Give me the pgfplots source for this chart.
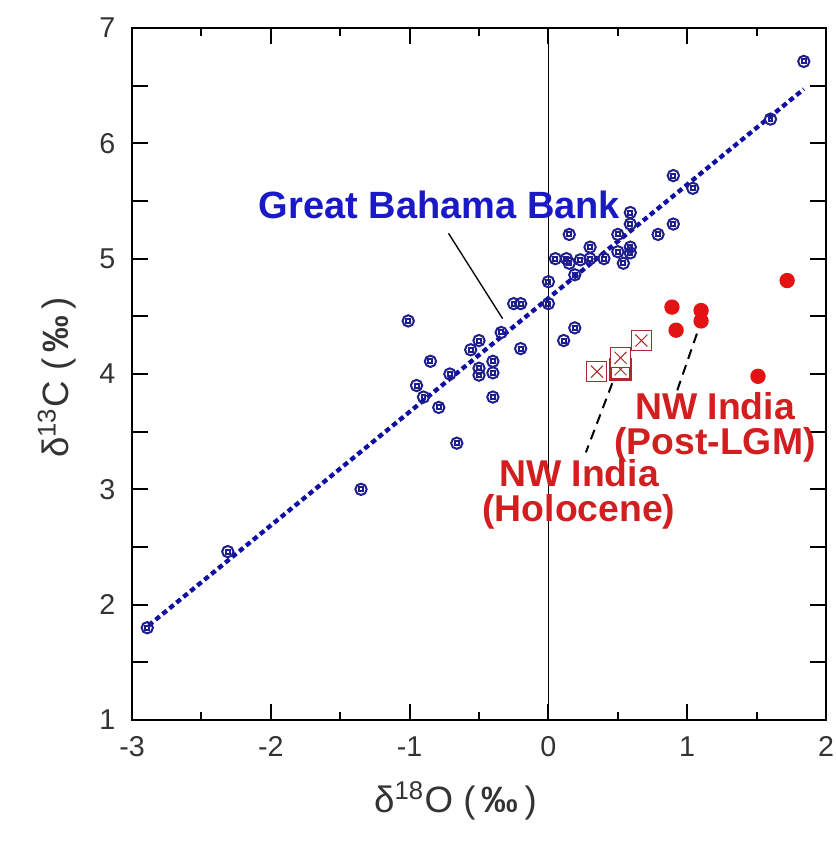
\documentclass[border=0pt]{standalone}
\usepackage{pgfplots}
\pgfplotsset{compat=1.18}
\usepackage{fontspec}
\setmainfont{Liberation Sans}

\definecolor{ptblue}{RGB}{30,30,140}
\definecolor{lnblue}{RGB}{15,15,165}
\definecolor{txblue}{RGB}{25,25,200}
\definecolor{txred}{RGB}{210,30,30}
\definecolor{dotred}{RGB}{228,18,18}
\definecolor{sqred}{RGB}{175,40,40}

% open circle with a small square in it
\pgfdeclareplotmark{cdot}{%
  \pgfpathcircle{\pgfpointorigin}{\pgfplotmarksize}\pgfusepathqstroke
  \pgfpathrectangle{\pgfpoint{-0.35\pgfplotmarksize}{-0.35\pgfplotmarksize}}{\pgfpoint{0.7\pgfplotmarksize}{0.7\pgfplotmarksize}}\pgfusepathqstroke}
% square with a cross
\pgfdeclareplotmark{sqx}{%
  \pgfpathrectangle{\pgfpoint{-\pgfplotmarksize}{-\pgfplotmarksize}}{\pgfpoint{2\pgfplotmarksize}{2\pgfplotmarksize}}\pgfusepathqfillstroke
  \pgfpathmoveto{\pgfpoint{-0.6\pgfplotmarksize}{-0.6\pgfplotmarksize}}\pgfpathlineto{\pgfpoint{0.6\pgfplotmarksize}{0.6\pgfplotmarksize}}
  \pgfpathmoveto{\pgfpoint{-0.6\pgfplotmarksize}{0.6\pgfplotmarksize}}\pgfpathlineto{\pgfpoint{0.6\pgfplotmarksize}{-0.6\pgfplotmarksize}}
  \pgfsetlinewidth{0.3pt}\pgfusepathqstroke}

\begin{document}
\begin{tikzpicture}
\begin{axis}[
    scale only axis,
    width=208.2pt, height=207.6pt,
    xmin=-3, xmax=2, ymin=1, ymax=7,
    xtick={-3,...,2}, minor x tick num=1,
    ytick={1,1.5,...,7},
    yticklabels={1,,2,,3,,4,,5,,6,,7},
    tick align=inside,
    major tick length=4.8pt, minor tick length=2.4pt,
    xtick pos=both, ytick pos=both,
    axis line style={line width=0.8pt},
    every tick/.style={black, line width=0.6pt},
    every minor tick/.style={black, line width=0.6pt},
    tick label style={font=\fontsize{8.6}{9}\selectfont, text=black!80},
    xticklabel style={yshift=-1.5pt},
    yticklabel style={xshift=-1.5pt},
    /pgf/number format/assume math mode=true,
    clip=false,
]
\coordinate (sw) at (rel axis cs:0,0);
\coordinate (ne) at (rel axis cs:1,1);

% zero line
\draw[black, line width=0.5pt] (axis cs:0,1) -- (axis cs:0,7);

% fit line
\addplot[lnblue, line width=1.3pt, dash pattern=on 1.6pt off 1.1pt] coordinates {(-2.88,1.82) (1.84,6.47)};

% Great Bahama Bank
\addplot[only marks, mark=cdot, mark size=1.7pt, ptblue, line width=0.6pt] coordinates {
(-2.89,1.80) (-2.31,2.46) (-1.35,3.00) (-1.01,4.46) (-0.95,3.90) (-0.90,3.80)
(-0.85,4.11) (-0.79,3.71) (-0.71,4.00) (-0.66,3.40) (-0.56,4.21) (-0.50,4.29)
(-0.50,4.05) (-0.50,3.99) (-0.40,4.11) (-0.40,4.01) (-0.40,3.80) (-0.34,4.36)
(-0.25,4.61) (-0.20,4.61) (-0.20,4.22) (0.00,4.80) (0.00,4.61) (0.05,5.00)
(0.11,4.29) (0.13,5.00) (0.15,5.21) (0.15,4.96) (0.19,4.86) (0.19,4.40)
(0.23,4.99) (0.30,5.10) (0.30,5.00) (0.40,5.00) (0.50,5.21) (0.50,5.06)
(0.54,4.96) (0.59,5.40) (0.59,5.30) (0.59,5.10) (0.59,5.05) (0.79,5.21)
(0.90,5.72) (0.90,5.30) (1.04,5.61) (1.60,6.21) (1.84,6.71)
};

% NW India, Post-LGM
\addplot[only marks, mark=*, mark size=2.1pt, dotred, mark options={draw=dotred, fill=dotred}] coordinates {
(0.89,4.58) (1.10,4.55) (1.10,4.46) (0.92,4.38) (1.72,4.81) (1.51,3.98)
};

% NW India, Holocene
\addplot[only marks, mark=sqx, mark size=3pt, mark options={draw=sqred, fill=white, line width=0.7pt}] coordinates {
(0.52,4.04) (0.35,4.02) (0.52,4.14) (0.67,4.29)
};

% labels and leaders
\draw[black, line width=0.4pt] (axis cs:-0.72,5.22) -- (axis cs:-0.33,4.48);
\draw[black, line width=0.6pt, densely dashed] (axis cs:0.46,3.92) -- (axis cs:0.27,3.32);
\draw[black, line width=0.6pt, densely dashed] (axis cs:1.07,4.35) -- (axis cs:0.92,3.83);

\node[txblue, font=\fontsize{11.4}{12}\selectfont\bfseries] at (axis cs:-0.785,5.47) {Great Bahama Bank};
\node[txred, font=\fontsize{11.2}{12}\selectfont\bfseries, align=center, inner sep=0pt] at (axis cs:0.22,2.955)
  {NW India\\[-1.5pt](Holocene)};
\node[txred, font=\fontsize{11.2}{12}\selectfont\bfseries, align=center, inner sep=0pt] at (axis cs:1.20,3.54)
  {NW India\\[-1.5pt](Post-LGM)};

% axis titles
\node[font=\fontsize{11}{12}\selectfont, text=black!80] at (axis cs:-0.67,0.30)
  {δ\textsuperscript{18}O (\,\textbf{‰}\,)};
\node[font=\fontsize{11}{12}\selectfont, text=black!80, rotate=90] at (axis cs:-3.54,3.97)
  {δ\textsuperscript{13}C (\,\textbf{‰}\,)};
\end{axis}
\pgfresetboundingbox
\path ([xshift=-39.6pt,yshift=-39.6pt]sw) rectangle ([xshift=2.7pt,yshift=8.4pt]ne);
\end{tikzpicture}
\end{document}
